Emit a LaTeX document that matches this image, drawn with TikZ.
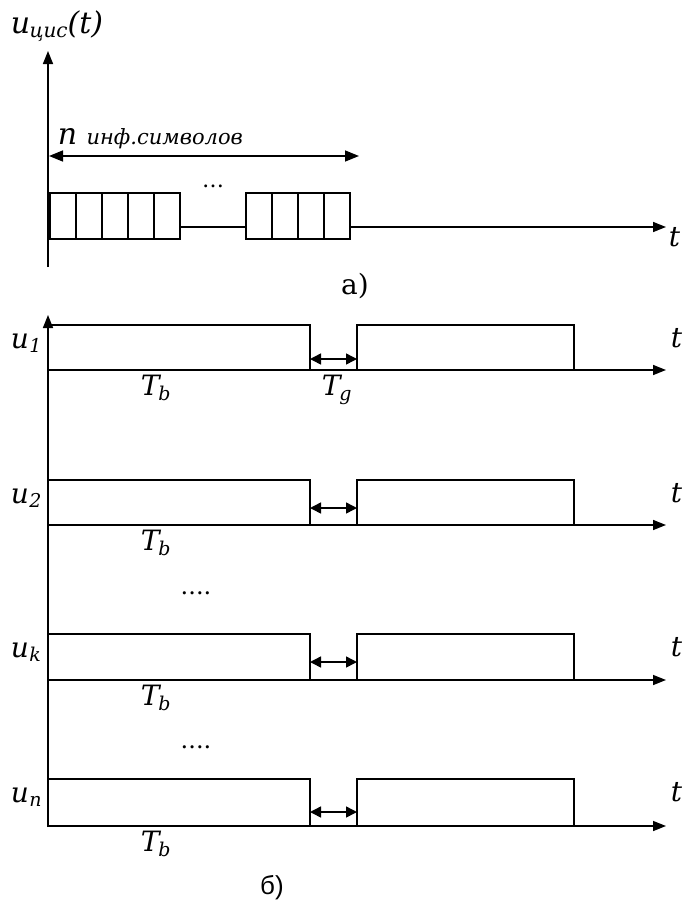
\documentclass[tikz,border=0pt]{standalone}
\usepackage{fontspec}
\setmainfont{DejaVu Serif}
\newfontfamily\arialf{Liberation Sans}
\usetikzlibrary{arrows.meta}
\begin{document}
\begin{tikzpicture}[x=1pt,y=-1pt, line width=1.5pt,
  axis/.style={-{Triangle[length=13pt,width=10pt]}},
  gaparrow/.style={{Triangle[length=11pt,width=11pt]}-{Triangle[length=11pt,width=11pt]}},
  dimarrow/.style={{Triangle[length=14pt,width=11pt]}-{Triangle[length=14pt,width=11pt]}},
  cell/.style={draw, fill=white},
  lbl/.style={font=\fontsize{28}{30}\selectfont\itshape, inner sep=0pt}]
\useasboundingbox (0,0) rectangle (682,910);

% ---------- part a ----------
\coordinate (abot) at (48,267);
\coordinate (atop) at (48,51);
\draw[axis] (abot) -- (atop);
\coordinate (aorig) at (48,227);
\coordinate (aend) at (666,227);
\draw[axis] (aorig) -- (aend);
\node[lbl, anchor=base west] (ta) at (668,246) {t};
\foreach \i in {0,...,4} \draw[cell] (50+26*\i,193) rectangle ++(26,46);
\foreach \i in {0,...,3} \draw[cell] (246+26*\i,193) rectangle ++(26,46);
\node[font=\fontsize{22}{24}\selectfont, inner sep=0pt] (adots) at (213,186) {\dots};
\coordinate (nl) at (49,156);
\coordinate (nr) at (359,156);
\draw[dimarrow] (nl) -- (nr);
\node[anchor=base west, inner sep=0pt] (nlab) at (57,144)
  {\fontsize{30}{32}\selectfont\itshape n\ \fontsize{21}{23}\selectfont инф.символов};
\node[anchor=base west, inner sep=0pt] (ulab) at (10,33)
  {\fontsize{30}{32}\selectfont\itshape u\kern-0.5pt\raisebox{-4pt}{\fontsize{20}{22}\selectfont цис}(t)};
\node[font=\fontsize{28}{30}\selectfont, inner sep=0pt] (capa) at (355,286) {а)};

% ---------- part b ----------
\coordinate (bbot) at (48,827);
\coordinate (btop) at (48,315);
\draw[axis] (bbot) -- (btop);

\foreach \T/\A/\lab/\ar/\nm in {325/370/1/359/a, 480/525/2/508/b, 634/680/k/662/c, 779/826/n/812/d}{
  \coordinate (o\nm) at (48,\A);
  \coordinate (e\nm) at (666,\A);
  \draw[axis] (o\nm) -- (e\nm);
  \draw (48,\A) -- (48,\T) -- (310,\T) -- (310,\A);
  \draw (357,\A) -- (357,\T) -- (574,\T) -- (574,\A);
  \coordinate (gl\nm) at (310,\ar);
  \coordinate (gr\nm) at (357,\ar);
  \draw[gaparrow] (gl\nm) -- (gr\nm);
  \node[anchor=base west, inner sep=0pt] (u\nm) at (10,\T+23)
    {\fontsize{28}{30}\selectfont\itshape u\kern0.5pt\raisebox{-4pt}{\fontsize{19}{21}\selectfont \lab}};
  \node[lbl, anchor=base west] (t\nm) at (670,\T+22) {t};
  \node[anchor=base west, inner sep=0pt] (tb\nm) at (140,\A+25)
    {\fontsize{28}{30}\selectfont\itshape T\kern-1pt\raisebox{-5pt}{\fontsize{19}{21}\selectfont b}};
}
\node[anchor=base west, inner sep=0pt] (tg) at (321,395)
  {\fontsize{28}{30}\selectfont\itshape T\kern-1pt\raisebox{-5pt}{\fontsize{19}{21}\selectfont g}};
\node[font=\fontsize{24}{26}\selectfont, inner sep=0pt] (bdots1) at (196,593) {....};
\node[font=\fontsize{24}{26}\selectfont, inner sep=0pt] (bdots2) at (196,747) {....};
\node[font=\arialf\fontsize{26}{28}\selectfont, inner sep=0pt] (capb) at (272,888) {б)};
\end{tikzpicture}
\end{document}
